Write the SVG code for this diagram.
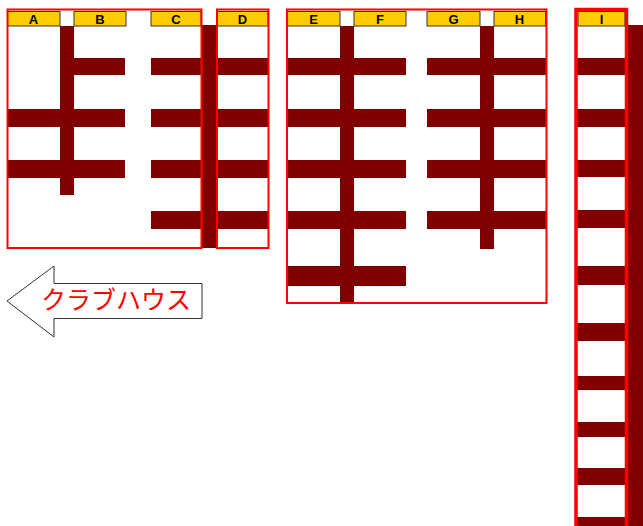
<svg xmlns="http://www.w3.org/2000/svg" width="643" height="526" viewBox="0 0 643 526">
<style>
.bar{fill:#800000}
.hdr{fill:#FFCC00;stroke:#333;stroke-width:1}
.lbl{font-family:"Liberation Sans",Arial,sans-serif;font-weight:bold;font-size:13px;text-anchor:middle;fill:#000}
.box{fill:none;stroke:#FF0000;stroke-width:2}
.box3{fill:none;stroke:#FF0000;stroke-width:3.5}
</style>
<rect width="643" height="526" fill="#fff"/>
<g id="block-abc">
<rect class="bar" x="60" y="26" width="14" height="169"/>
<rect class="bar" x="74" y="58" width="51" height="17"/>
<rect class="bar" x="7" y="109" width="118" height="18"/>
<rect class="bar" x="7" y="160" width="118" height="18"/>
<rect class="bar" x="151" y="58" width="51" height="17"/>
<rect class="bar" x="151" y="109" width="51" height="18"/>
<rect class="bar" x="151" y="160" width="51" height="18"/>
<rect class="bar" x="151" y="211" width="51" height="18"/>
<rect class="bar" x="202" y="25" width="15" height="223"/>
<rect class="hdr" x="7.5" y="11.5" width="52.5" height="14.5"/>
<rect class="hdr" x="74" y="11.5" width="52" height="14.5"/>
<rect class="hdr" x="151" y="11.5" width="50" height="14.5"/>
<text class="lbl" x="33.5" y="24">A</text>
<text class="lbl" x="100" y="24">B</text>
<text class="lbl" x="176" y="24">C</text>
<rect class="box" x="7.5" y="9.5" width="194" height="238.5"/>
</g>
<g id="block-d">
<rect class="bar" x="217" y="58" width="51" height="17"/>
<rect class="bar" x="217" y="109" width="51" height="18"/>
<rect class="bar" x="217" y="160" width="51" height="18"/>
<rect class="bar" x="217" y="211" width="51" height="18"/>
<rect class="hdr" x="217" y="11.5" width="51" height="14.5"/>
<text class="lbl" x="242.5" y="24">D</text>
<rect class="box" x="217" y="9.5" width="51.5" height="238.5"/>
</g>
<g id="block-efgh">
<rect class="bar" x="340" y="26" width="14" height="277"/>
<rect class="bar" x="287" y="58" width="119" height="17"/>
<rect class="bar" x="287" y="109" width="119" height="18"/>
<rect class="bar" x="287" y="160" width="119" height="18"/>
<rect class="bar" x="287" y="211" width="119" height="18"/>
<rect class="bar" x="287" y="266" width="119" height="20"/>
<rect class="bar" x="480" y="26" width="14" height="223"/>
<rect class="bar" x="427" y="58" width="119" height="17"/>
<rect class="bar" x="427" y="109" width="119" height="18"/>
<rect class="bar" x="427" y="160" width="119" height="18"/>
<rect class="bar" x="427" y="211" width="119" height="18"/>
<rect class="hdr" x="287.5" y="11.5" width="52.5" height="14.5"/>
<rect class="hdr" x="354" y="11.5" width="52" height="14.5"/>
<rect class="hdr" x="427" y="11.5" width="53" height="14.5"/>
<rect class="hdr" x="494" y="11.5" width="51.5" height="14.5"/>
<text class="lbl" x="313.5" y="24">E</text>
<text class="lbl" x="380" y="24">F</text>
<text class="lbl" x="453.5" y="24">G</text>
<text class="lbl" x="519.5" y="24">H</text>
<rect class="box" x="287" y="9.5" width="259.5" height="293.5"/>
</g>
<g id="block-i">
<rect class="bar" x="628" y="25" width="15" height="501"/>
<rect class="bar" x="577" y="58" width="49" height="17"/>
<rect class="bar" x="577" y="109" width="49" height="18"/>
<rect class="bar" x="577" y="160" width="49" height="17"/>
<rect class="bar" x="577" y="210" width="49" height="18"/>
<rect class="bar" x="577" y="266" width="49" height="19"/>
<rect class="bar" x="577" y="323" width="49" height="18"/>
<rect class="bar" x="577" y="376" width="49" height="14"/>
<rect class="bar" x="577" y="422" width="49" height="15"/>
<rect class="bar" x="577" y="468" width="49" height="17"/>
<rect class="bar" x="577" y="517" width="49" height="12"/>
<rect class="hdr" x="578" y="11.5" width="47" height="14.5"/>
<text class="lbl" x="601.5" y="24">I</text>
<rect class="box3" x="576" y="9.5" width="50.5" height="520"/>
</g>
<g id="clubhouse">
<polygon points="7,301 54,266 54,283.5 202,283.5 202,318.5 54,318.5 54,337" fill="#fff" stroke="#333" stroke-width="1"/>
<text x="116" y="309" font-family="'Noto Sans CJK JP',sans-serif" font-size="25" fill="#FF0000" text-anchor="middle">クラブハウス</text>
</g>
</svg>
